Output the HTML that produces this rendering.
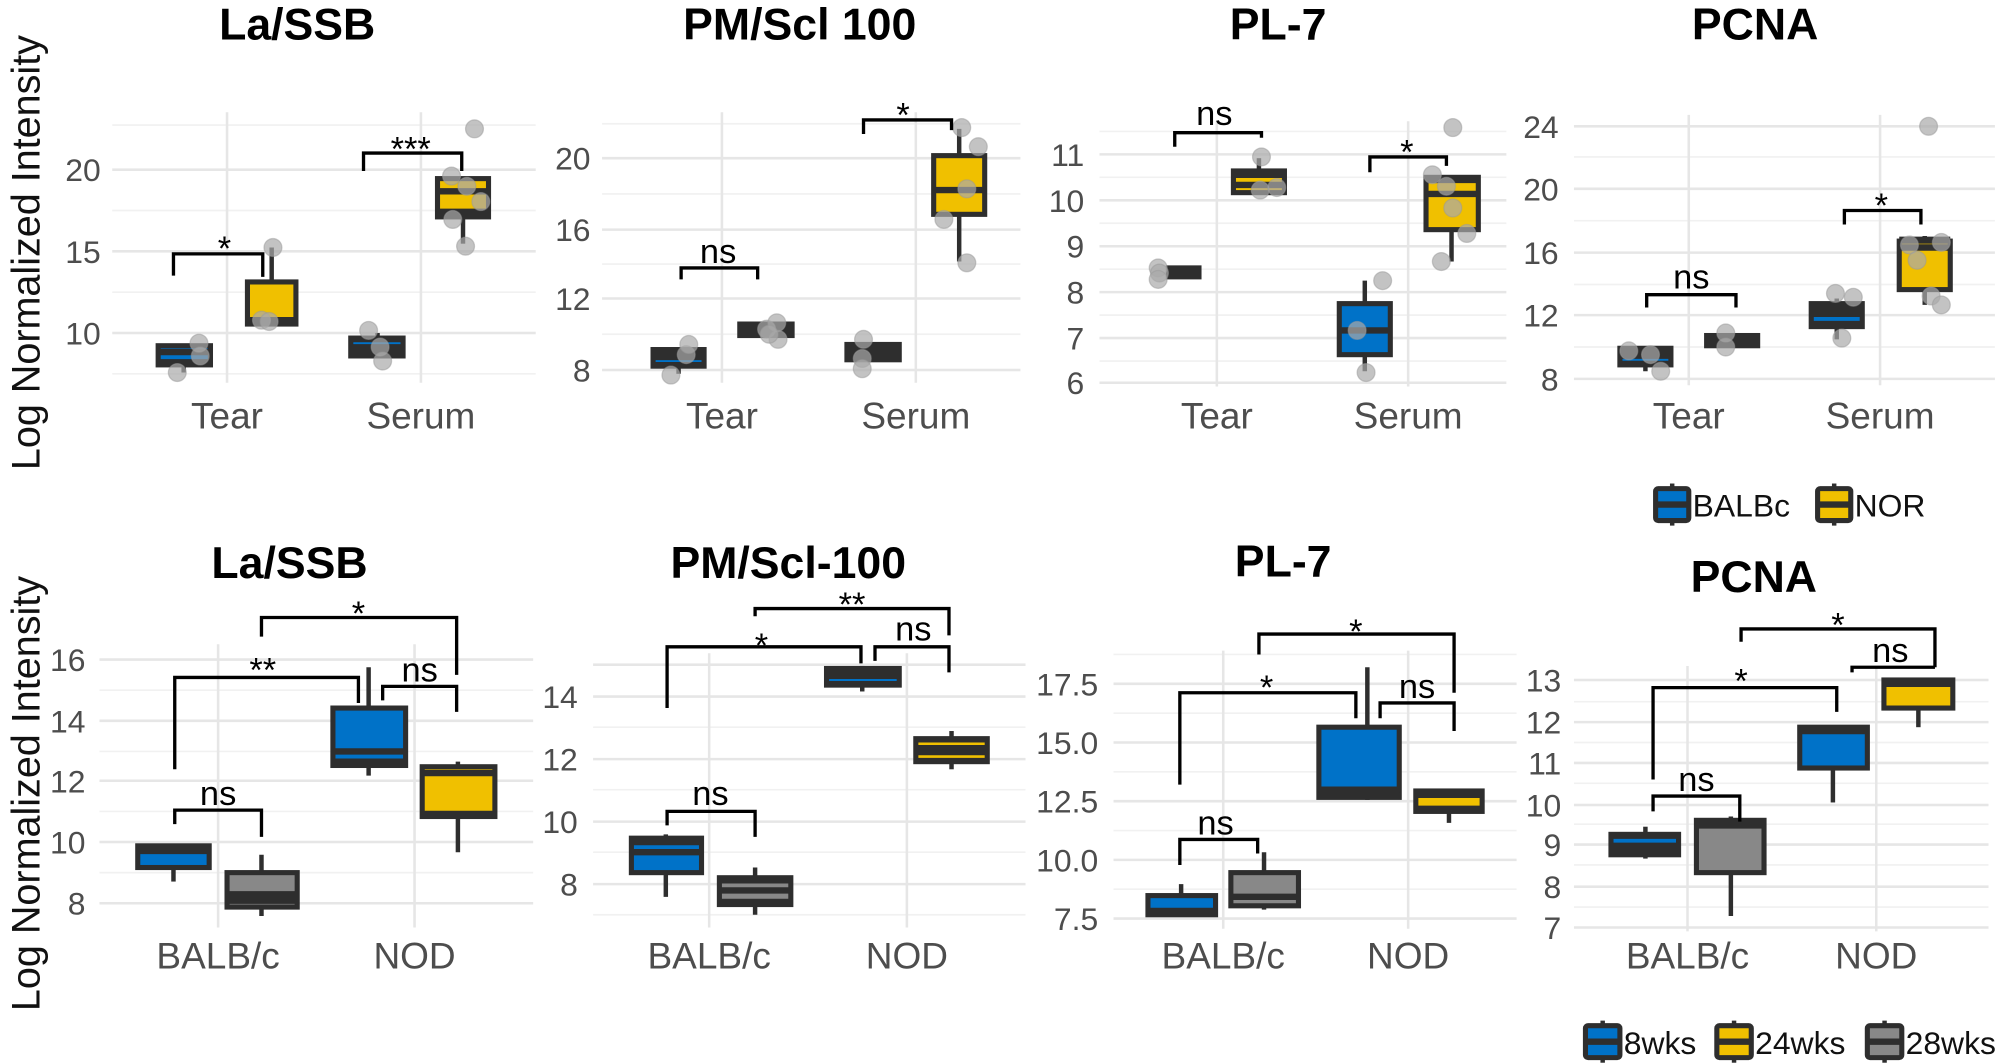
<!DOCTYPE html>
<html><head><meta charset="utf-8"><style>
html,body{margin:0;padding:0;background:#fff;}
svg{display:block;}
.gM{stroke:#e6e6e6;stroke-width:2;}
.gm{stroke:#f1f1f1;stroke-width:1.3;}
.tk{font-family:"Liberation Sans",sans-serif;font-size:25px;fill:#4d4d4d;text-anchor:end;}
.xl{font-family:"Liberation Sans",sans-serif;font-size:29px;fill:#4d4d4d;text-anchor:middle;}
.ti{font-family:"Liberation Sans",sans-serif;font-size:35px;font-weight:bold;fill:#000;text-anchor:middle;}
.sg{font-family:"Liberation Sans",sans-serif;font-size:27px;fill:#000;text-anchor:middle;}
.yl{font-family:"Liberation Sans",sans-serif;font-size:31px;fill:#111;text-anchor:middle;}
.lg{font-family:"Liberation Sans",sans-serif;font-size:25px;fill:#111;}
.bx{stroke:#2e2e2e;stroke-width:4;}
.wh{stroke:#2e2e2e;stroke-width:3.5;}
.md{stroke:#2e2e2e;stroke-width:5;}
.br{stroke:#000;stroke-width:2.6;fill:none;}
.pt{fill:#aaa;fill-opacity:0.7;stroke:#999;stroke-opacity:.5;stroke-width:1;}
</style></head><body>
<svg width="2000" height="1064" viewBox="0 0 1568 834" preserveAspectRatio="none" xmlns="http://www.w3.org/2000/svg">
<rect width="1568" height="834" fill="#fff"/>

<text class="yl" transform="translate(31,198) rotate(-90)">Log Normalized Intensity</text>
<text class="yl" transform="translate(31,622) rotate(-90)">Log Normalized Intensity</text>

<!-- P1 -->
<g>
<line class="gm" x1="88" x2="420" y1="98" y2="98"/><line class="gm" x1="88" x2="420" y1="165" y2="165"/><line class="gm" x1="88" x2="420" y1="229" y2="229"/><line class="gm" x1="88" x2="420" y1="293" y2="293"/>
<line class="gM" x1="88" x2="420" y1="133" y2="133"/><line class="gM" x1="88" x2="420" y1="197" y2="197"/><line class="gM" x1="88" x2="420" y1="261" y2="261"/>
<line class="gM" x1="178" x2="178" y1="88" y2="300"/><line class="gM" x1="330" x2="330" y1="88" y2="300"/>
<text class="tk" x="79" y="142">20</text><text class="tk" x="79" y="206">15</text><text class="tk" x="79" y="270">10</text>
<text class="xl" x="178" y="336">Tear</text><text class="xl" x="330" y="336">Serum</text>
<text class="ti" x="233" y="31">La/SSB</text>
<line class="wh" x1="144" x2="144" y1="286" y2="292"/>
<rect class="bx" x="124" y="271" width="41" height="15" fill="#0072c8"/><line class="md" x1="124" x2="165" y1="276" y2="276"/><line class="md" x1="124" x2="165" y1="284" y2="284"/>
<line class="wh" x1="213" x2="213" y1="194" y2="221"/>
<rect class="bx" x="194" y="221" width="38" height="33" fill="#f0c000"/><line class="md" x1="194" x2="232" y1="251" y2="251"/>
<line class="wh" x1="296" x2="296" y1="261" y2="265"/>
<rect class="bx" x="275" y="265" width="41" height="14" fill="#2e2e2e"/><line x1="277" x2="314" y1="269" y2="269" stroke="#0072c8" stroke-width="1.5"/>
<line class="wh" x1="363" x2="363" y1="170" y2="191"/>
<rect class="bx" x="343" y="140" width="40" height="30" fill="#f0c000"/><line class="md" x1="343" x2="383" y1="150" y2="150"/><line class="md" x1="343" x2="383" y1="166" y2="166"/>
<circle class="pt" cx="139" cy="292" r="7"/><circle class="pt" cx="156" cy="269" r="7"/><circle class="pt" cx="157" cy="279" r="7"/>
<circle class="pt" cx="214" cy="194" r="7"/><circle class="pt" cx="205" cy="251" r="7"/><circle class="pt" cx="211" cy="252" r="7"/>
<circle class="pt" cx="289" cy="259" r="7"/><circle class="pt" cx="298" cy="272" r="7"/><circle class="pt" cx="300" cy="283" r="7"/>
<circle class="pt" cx="372" cy="101" r="7"/><circle class="pt" cx="354" cy="138" r="7"/><circle class="pt" cx="366" cy="146" r="7"/><circle class="pt" cx="377" cy="158" r="7"/><circle class="pt" cx="355" cy="172" r="7"/><circle class="pt" cx="365" cy="193" r="7"/>
<polyline class="br" points="136,216 136,199 206,199 206,217"/><text class="sg" x="176" y="204">*</text>
<polyline class="br" points="285,134 285,120 362,120 362,134"/><text class="sg" x="322" y="126">***</text>
</g>

<!-- P2 -->
<g>
<line class="gm" x1="472" x2="800" y1="97" y2="97"/><line class="gm" x1="472" x2="800" y1="152" y2="152"/><line class="gm" x1="472" x2="800" y1="207" y2="207"/><line class="gm" x1="472" x2="800" y1="262" y2="262"/>
<line class="gM" x1="472" x2="800" y1="124" y2="124"/><line class="gM" x1="472" x2="800" y1="180" y2="180"/><line class="gM" x1="472" x2="800" y1="234" y2="234"/><line class="gM" x1="472" x2="800" y1="290" y2="290"/>
<line class="gM" x1="566" x2="566" y1="88" y2="300"/><line class="gM" x1="718" x2="718" y1="88" y2="300"/>
<text class="tk" x="463" y="133">20</text><text class="tk" x="463" y="189">16</text><text class="tk" x="463" y="243">12</text><text class="tk" x="463" y="299">8</text>
<text class="xl" x="566" y="336">Tear</text><text class="xl" x="718" y="336">Serum</text>
<text class="ti" x="627" y="31">PM/Scl 100</text>
<line class="wh" x1="532" x2="532" y1="287" y2="293"/>
<rect class="bx" x="512" y="274" width="40" height="13" fill="#2e2e2e"/><line x1="514" x2="550" y1="283" y2="283" stroke="#0072c8" stroke-width="1.5"/>
<rect class="bx" x="580" y="254" width="41" height="9" fill="#2e2e2e"/>
<rect class="bx" x="664" y="270" width="41" height="12" fill="#2e2e2e"/>
<line class="wh" x1="752" x2="752" y1="101" y2="205"/>
<rect class="bx" x="732" y="122" width="40" height="46" fill="#f0c000"/><line class="md" x1="732" x2="772" y1="149" y2="149"/>
<circle class="pt" cx="526" cy="294" r="7"/><circle class="pt" cx="538" cy="278" r="7"/><circle class="pt" cx="540" cy="270" r="7"/>
<circle class="pt" cx="601" cy="258" r="7"/><circle class="pt" cx="609" cy="253" r="7"/><circle class="pt" cx="610" cy="266" r="7"/><circle class="pt" cx="603" cy="262" r="7"/>
<circle class="pt" cx="677" cy="266" r="7"/><circle class="pt" cx="676" cy="281" r="7"/><circle class="pt" cx="676" cy="289" r="7"/>
<circle class="pt" cx="754" cy="100" r="7"/><circle class="pt" cx="767" cy="115" r="7"/><circle class="pt" cx="758" cy="148" r="7"/><circle class="pt" cx="740" cy="172" r="7"/><circle class="pt" cx="758" cy="206" r="7"/>
<polyline class="br" points="534,219 534,210 594,210 594,219"/><text class="sg" x="563" y="206">ns</text>
<polyline class="br" points="677,105 677,94 746,94 746,102"/><text class="sg" x="708" y="99">*</text>
</g>

<!-- P3 -->
<g>
<line class="gm" x1="862" x2="1181" y1="103" y2="103"/><line class="gm" x1="862" x2="1181" y1="139" y2="139"/><line class="gm" x1="862" x2="1181" y1="175" y2="175"/><line class="gm" x1="862" x2="1181" y1="211" y2="211"/><line class="gm" x1="862" x2="1181" y1="247" y2="247"/><line class="gm" x1="862" x2="1181" y1="283" y2="283"/>
<line class="gM" x1="862" x2="1181" y1="121" y2="121"/><line class="gM" x1="862" x2="1181" y1="157" y2="157"/><line class="gM" x1="862" x2="1181" y1="193" y2="193"/><line class="gM" x1="862" x2="1181" y1="229" y2="229"/><line class="gM" x1="862" x2="1181" y1="265" y2="265"/><line class="gM" x1="862" x2="1181" y1="300" y2="300"/>
<line class="gM" x1="954" x2="954" y1="95" y2="303"/><line class="gM" x1="1104" x2="1104" y1="95" y2="303"/>
<text class="tk" x="850" y="130">11</text><text class="tk" x="850" y="166">10</text><text class="tk" x="850" y="202">9</text><text class="tk" x="850" y="238">8</text><text class="tk" x="850" y="274">7</text><text class="tk" x="850" y="309">6</text>
<text class="xl" x="954" y="336">Tear</text><text class="xl" x="1104" y="336">Serum</text>
<text class="ti" x="1002" y="31">PL-7</text>
<rect class="bx" x="916" y="210" width="24" height="7" fill="#2e2e2e"/>
<line class="wh" x1="987" x2="987" y1="124" y2="134"/>
<rect class="bx" x="967" y="134" width="40" height="17" fill="#f0c000"/><line class="md" x1="967" x2="1007" y1="145" y2="145"/><line class="md" x1="967" x2="1007" y1="137" y2="137"/>
<line class="wh" x1="1070" x2="1070" y1="220" y2="291"/>
<rect class="bx" x="1050" y="238" width="40" height="40" fill="#0072c8"/><line class="md" x1="1050" x2="1090" y1="259" y2="259"/>
<line class="wh" x1="1138" x2="1138" y1="180" y2="205"/>
<rect class="bx" x="1118" y="139" width="41" height="41" fill="#f0c000"/><line class="md" x1="1118" x2="1159" y1="152" y2="152"/><line class="md" x1="1118" x2="1159" y1="141" y2="141"/>
<circle class="pt" cx="908" cy="210" r="7"/><circle class="pt" cx="909" cy="214" r="7"/><circle class="pt" cx="908" cy="219" r="7"/>
<circle class="pt" cx="989" cy="123" r="7"/><circle class="pt" cx="988" cy="149" r="7"/><circle class="pt" cx="1001" cy="147" r="7"/>
<circle class="pt" cx="1084" cy="220" r="7"/><circle class="pt" cx="1064" cy="259" r="7"/><circle class="pt" cx="1071" cy="292" r="7"/>
<circle class="pt" cx="1139" cy="100" r="7"/><circle class="pt" cx="1123" cy="137" r="7"/><circle class="pt" cx="1134" cy="146" r="7"/><circle class="pt" cx="1139" cy="163" r="7"/><circle class="pt" cx="1150" cy="183" r="7"/><circle class="pt" cx="1130" cy="205" r="7"/>
<polyline class="br" points="921,115 921,104 989,104 989,108"/><text class="sg" x="952" y="98">ns</text>
<polyline class="br" points="1074,135 1074,123 1134,123 1134,130"/><text class="sg" x="1103" y="128">*</text>
</g>

<!-- P4 -->
<g>
<line class="gm" x1="1234" x2="1564" y1="123" y2="123"/><line class="gm" x1="1234" x2="1564" y1="173" y2="173"/><line class="gm" x1="1234" x2="1564" y1="223" y2="223"/><line class="gm" x1="1234" x2="1564" y1="272" y2="272"/>
<line class="gM" x1="1234" x2="1564" y1="99" y2="99"/><line class="gM" x1="1234" x2="1564" y1="148" y2="148"/><line class="gM" x1="1234" x2="1564" y1="198" y2="198"/><line class="gM" x1="1234" x2="1564" y1="247" y2="247"/><line class="gM" x1="1234" x2="1564" y1="297" y2="297"/>
<line class="gM" x1="1324" x2="1324" y1="90" y2="302"/><line class="gM" x1="1474" x2="1474" y1="90" y2="302"/>
<text class="tk" x="1222" y="108">24</text><text class="tk" x="1222" y="157">20</text><text class="tk" x="1222" y="207">16</text><text class="tk" x="1222" y="256">12</text><text class="tk" x="1222" y="306">8</text>
<text class="xl" x="1324" y="336">Tear</text><text class="xl" x="1474" y="336">Serum</text>
<text class="ti" x="1376" y="31">PCNA</text>
<line class="wh" x1="1290" x2="1290" y1="286" y2="291"/>
<rect class="bx" x="1270" y="273" width="40" height="13" fill="#2e2e2e"/><line x1="1272" x2="1308" y1="282" y2="282" stroke="#0072c8" stroke-width="1.5"/>
<rect class="bx" x="1338" y="263" width="40" height="8" fill="#2e2e2e"/>
<line class="wh" x1="1440" x2="1440" y1="234" y2="266"/>
<rect class="bx" x="1420" y="238" width="40" height="18" fill="#2e2e2e"/><line x1="1422" x2="1458" y1="250" y2="250" stroke="#0072c8" stroke-width="3"/>
<line class="wh" x1="1509" x2="1509" y1="185" y2="239"/>
<rect class="bx" x="1489" y="189" width="40" height="38" fill="#f0c000"/><line class="md" x1="1489" x2="1529" y1="194" y2="194"/><line class="md" x1="1489" x2="1529" y1="188" y2="188"/>
<circle class="pt" cx="1277" cy="275" r="7"/><circle class="pt" cx="1294" cy="278" r="7"/><circle class="pt" cx="1302" cy="291" r="7"/>
<circle class="pt" cx="1353" cy="261" r="7"/><circle class="pt" cx="1353" cy="272" r="7"/>
<circle class="pt" cx="1439" cy="230" r="7"/><circle class="pt" cx="1453" cy="233" r="7"/><circle class="pt" cx="1444" cy="265" r="7"/>
<circle class="pt" cx="1512" cy="99" r="7"/><circle class="pt" cx="1497" cy="192" r="7"/><circle class="pt" cx="1522" cy="190" r="7"/><circle class="pt" cx="1503" cy="204" r="7"/><circle class="pt" cx="1514" cy="232" r="7"/><circle class="pt" cx="1522" cy="239" r="7"/>
<polyline class="br" points="1291,241 1291,231 1361,231 1361,241"/><text class="sg" x="1326" y="226">ns</text>
<polyline class="br" points="1446,176 1446,165 1506,165 1506,176"/><text class="sg" x="1475" y="170">*</text>
</g>

<g>
<line class="wh" x1="1311" x2="1311" y1="379" y2="412"/>
<rect class="bx" x="1298" y="383" width="26" height="25" rx="2" fill="#0072c8"/><line class="md" x1="1298" x2="1324" y1="395.5" y2="395.5"/>
<text class="lg" x="1327" y="405">BALBc</text>
<line class="wh" x1="1438" x2="1438" y1="379" y2="412"/>
<rect class="bx" x="1425" y="383" width="26" height="25" rx="2" fill="#f0c000"/><line class="md" x1="1425" x2="1451" y1="395.5" y2="395.5"/>
<text class="lg" x="1454" y="405">NOR</text>
</g>

<!-- P5 -->
<g>
<line class="gm" x1="78" x2="418" y1="541" y2="541"/><line class="gm" x1="78" x2="418" y1="589" y2="589"/><line class="gm" x1="78" x2="418" y1="636" y2="636"/><line class="gm" x1="78" x2="418" y1="684" y2="684"/>
<line class="gM" x1="78" x2="418" y1="517" y2="517"/><line class="gM" x1="78" x2="418" y1="565" y2="565"/><line class="gM" x1="78" x2="418" y1="612" y2="612"/><line class="gM" x1="78" x2="418" y1="660" y2="660"/><line class="gM" x1="78" x2="418" y1="708" y2="708"/>
<line class="gM" x1="171" x2="171" y1="505" y2="727"/><line class="gM" x1="325" x2="325" y1="505" y2="727"/>
<text class="tk" x="67" y="526">16</text><text class="tk" x="67" y="574">14</text><text class="tk" x="67" y="621">12</text><text class="tk" x="67" y="669">10</text><text class="tk" x="67" y="717">8</text>
<text class="xl" x="171" y="759">BALB/c</text><text class="xl" x="325" y="759">NOD</text>
<text class="ti" x="227" y="453">La/SSB</text>
<line class="wh" x1="136" x2="136" y1="680" y2="691"/>
<rect class="bx" x="108" y="663" width="56" height="17" fill="#0072c8"/><line class="md" x1="108" x2="164" y1="667" y2="667"/>
<line class="wh" x1="205" x2="205" y1="670" y2="718"/>
<rect class="bx" x="178" y="684" width="55" height="27" fill="#888"/><line class="md" x1="178" x2="233" y1="701" y2="701"/><line class="md" x1="178" x2="233" y1="706" y2="706"/>
<line class="wh" x1="289" x2="289" y1="523" y2="608"/>
<rect class="bx" x="261" y="555" width="57" height="45" fill="#0072c8"/><line class="md" x1="261" x2="318" y1="589" y2="589"/><line class="md" x1="261" x2="318" y1="597" y2="597"/>
<line class="wh" x1="359" x2="359" y1="597" y2="668"/>
<rect class="bx" x="331" y="601" width="57" height="39" fill="#f0c000"/><line class="md" x1="331" x2="388" y1="606" y2="606"/><line class="md" x1="331" x2="388" y1="638" y2="638"/>
<polyline class="br" points="137,646 137,635 205,635 205,656"/><text class="sg" x="171" y="631">ns</text>
<polyline class="br" points="137,603 137,531 281,531 281,551"/><text class="sg" x="206" y="534">**</text>
<polyline class="br" points="300,549 300,538 358,538 358,558"/><text class="sg" x="329" y="534">ns</text>
<polyline class="br" points="205,499 205,484 358,484 358,529"/><text class="sg" x="281" y="490">*</text>
</g>

<!-- P6 -->
<g>
<line class="gm" x1="465" x2="804" y1="570" y2="570"/><line class="gm" x1="465" x2="804" y1="619" y2="619"/><line class="gm" x1="465" x2="804" y1="668" y2="668"/><line class="gm" x1="465" x2="804" y1="717" y2="717"/>
<line class="gM" x1="465" x2="804" y1="521" y2="521"/><line class="gM" x1="465" x2="804" y1="546" y2="546"/><line class="gM" x1="465" x2="804" y1="595" y2="595"/><line class="gM" x1="465" x2="804" y1="644" y2="644"/><line class="gM" x1="465" x2="804" y1="693" y2="693"/>
<line class="gM" x1="556" x2="556" y1="512" y2="727"/><line class="gM" x1="711" x2="711" y1="512" y2="727"/>
<text class="tk" x="453" y="555">14</text><text class="tk" x="453" y="604">12</text><text class="tk" x="453" y="653">10</text><text class="tk" x="453" y="702">8</text>
<text class="xl" x="556" y="759">BALB/c</text><text class="xl" x="711" y="759">NOD</text>
<text class="ti" x="618" y="453">PM/Scl-100</text>
<line class="wh" x1="522" x2="522" y1="654" y2="703"/>
<rect class="bx" x="495" y="657" width="55" height="27" fill="#0072c8"/><line class="md" x1="495" x2="550" y1="668" y2="668"/><line class="md" x1="495" x2="550" y1="660" y2="660"/>
<line class="wh" x1="592" x2="592" y1="680" y2="717"/>
<rect class="bx" x="564" y="688" width="56" height="21" fill="#888"/><line class="md" x1="564" x2="620" y1="698" y2="698"/><line class="md" x1="564" x2="620" y1="690" y2="690"/><line class="md" x1="564" x2="620" y1="707" y2="707"/>
<line class="wh" x1="676" x2="676" y1="522" y2="542"/>
<rect class="bx" x="648" y="524" width="57" height="13" fill="#2e2e2e"/><line x1="650" x2="703" y1="533" y2="533" stroke="#0072c8" stroke-width="1.5"/>
<line class="wh" x1="746" x2="746" y1="573" y2="603"/>
<rect class="bx" x="718" y="579" width="56" height="18" fill="#2e2e2e"/><line x1="720" x2="772" y1="583" y2="583" stroke="#f0c000" stroke-width="2"/><line x1="720" x2="772" y1="593" y2="593" stroke="#f0c000" stroke-width="2"/>
<polyline class="br" points="523,647 523,636 592,636 592,656"/><text class="sg" x="557" y="631">ns</text>
<polyline class="br" points="523,555 523,507 675,507 675,520"/><text class="sg" x="597" y="515">*</text>
<polyline class="br" points="686,518 686,507 744,507 744,527"/><text class="sg" x="716" y="502">ns</text>
<polyline class="br" points="592,483 592,477 744,477 744,498"/><text class="sg" x="668" y="483">**</text>
</g>

<!-- P7 -->
<g>
<line class="gm" x1="873" x2="1189" y1="513" y2="513"/><line class="gm" x1="873" x2="1189" y1="559" y2="559"/><line class="gm" x1="873" x2="1189" y1="605" y2="605"/><line class="gm" x1="873" x2="1189" y1="651" y2="651"/><line class="gm" x1="873" x2="1189" y1="697" y2="697"/>
<line class="gM" x1="873" x2="1189" y1="536" y2="536"/><line class="gM" x1="873" x2="1189" y1="582" y2="582"/><line class="gM" x1="873" x2="1189" y1="628" y2="628"/><line class="gM" x1="873" x2="1189" y1="674" y2="674"/><line class="gM" x1="873" x2="1189" y1="720" y2="720"/>
<line class="gM" x1="959" x2="959" y1="510" y2="728"/><line class="gM" x1="1104" x2="1104" y1="510" y2="728"/>
<text class="tk" x="861" y="545">17.5</text><text class="tk" x="861" y="591">15.0</text><text class="tk" x="861" y="637">12.5</text><text class="tk" x="861" y="683">10.0</text><text class="tk" x="861" y="729">7.5</text>
<text class="xl" x="959" y="759">BALB/c</text><text class="xl" x="1104" y="759">NOD</text>
<text class="ti" x="1006" y="452">PL-7</text>
<line class="wh" x1="926" x2="926" y1="693" y2="702"/>
<rect class="bx" x="900" y="702" width="53" height="15" fill="#0072c8"/><line class="md" x1="900" x2="953" y1="714" y2="714"/>
<line class="wh" x1="991" x2="991" y1="668" y2="713"/>
<rect class="bx" x="965" y="684" width="53" height="26" fill="#888"/><line class="md" x1="965" x2="1018" y1="703" y2="703"/>
<line class="wh" x1="1072" x2="1072" y1="523" y2="627"/>
<rect class="bx" x="1034" y="570" width="63" height="55" fill="#0072c8"/><line class="md" x1="1034" x2="1097" y1="619" y2="619"/><line class="md" x1="1034" x2="1097" y1="623" y2="623"/>
<line class="wh" x1="1136" x2="1136" y1="636" y2="645"/>
<rect class="bx" x="1110" y="620" width="52" height="16" fill="#f0c000"/><line class="md" x1="1110" x2="1162" y1="623" y2="623"/><line class="md" x1="1110" x2="1162" y1="634" y2="634"/>
<polyline class="br" points="925,678 925,658 986,658 986,669"/><text class="sg" x="953" y="654">ns</text>
<polyline class="br" points="925,615 925,543 1063,543 1063,563"/><text class="sg" x="993" y="548">*</text>
<polyline class="br" points="1082,563 1082,551 1140,551 1140,573"/><text class="sg" x="1111" y="547">ns</text>
<polyline class="br" points="987,513 987,497 1140,497 1140,543"/><text class="sg" x="1063" y="504">*</text>
</g>

<!-- P8 -->
<g>
<line class="gm" x1="1234" x2="1559" y1="550" y2="550"/><line class="gm" x1="1234" x2="1559" y1="582" y2="582"/><line class="gm" x1="1234" x2="1559" y1="614" y2="614"/><line class="gm" x1="1234" x2="1559" y1="646" y2="646"/><line class="gm" x1="1234" x2="1559" y1="678" y2="678"/><line class="gm" x1="1234" x2="1559" y1="711" y2="711"/>
<line class="gM" x1="1234" x2="1559" y1="533" y2="533"/><line class="gM" x1="1234" x2="1559" y1="566" y2="566"/><line class="gM" x1="1234" x2="1559" y1="598" y2="598"/><line class="gM" x1="1234" x2="1559" y1="631" y2="631"/><line class="gM" x1="1234" x2="1559" y1="662" y2="662"/><line class="gM" x1="1234" x2="1559" y1="695" y2="695"/><line class="gM" x1="1234" x2="1559" y1="727" y2="727"/>
<line class="gM" x1="1323" x2="1323" y1="522" y2="730"/><line class="gM" x1="1471" x2="1471" y1="522" y2="730"/>
<text class="tk" x="1224" y="542">13</text><text class="tk" x="1224" y="575">12</text><text class="tk" x="1224" y="607">11</text><text class="tk" x="1224" y="640">10</text><text class="tk" x="1224" y="671">9</text><text class="tk" x="1224" y="704">8</text><text class="tk" x="1224" y="736">7</text>
<text class="xl" x="1323" y="759">BALB/c</text><text class="xl" x="1471" y="759">NOD</text>
<text class="ti" x="1375" y="464">PCNA</text>
<line class="wh" x1="1290" x2="1290" y1="648" y2="673"/>
<rect class="bx" x="1263" y="654" width="53" height="16" fill="#2e2e2e"/><line x1="1265" x2="1314" y1="659" y2="659" stroke="#0072c8" stroke-width="3"/>
<line class="wh" x1="1357" x2="1357" y1="640" y2="718"/>
<rect class="bx" x="1330" y="643" width="53" height="41" fill="#888"/><line class="md" x1="1330" x2="1383" y1="647" y2="647"/>
<line class="wh" x1="1437" x2="1437" y1="602" y2="629"/>
<rect class="bx" x="1411" y="570" width="53" height="32" fill="#0072c8"/><line class="md" x1="1411" x2="1464" y1="573" y2="573"/>
<line class="wh" x1="1504" x2="1504" y1="555" y2="570"/>
<rect class="bx" x="1477" y="533" width="54" height="22" fill="#f0c000"/><line class="md" x1="1477" x2="1531" y1="536" y2="536"/>
<polyline class="br" points="1296,636 1296,624 1364,624 1364,644"/><text class="sg" x="1330" y="620">ns</text>
<polyline class="br" points="1296,611 1296,539 1440,539 1440,558"/><text class="sg" x="1365" y="543">*</text>
<polyline class="br" points="1452,527 1452,523 1517,523"/><text class="sg" x="1482" y="519">ns</text>
<polyline class="br" points="1365,503 1365,493 1517,493 1517,523"/><text class="sg" x="1441" y="499">*</text>
</g>

<g>
<line class="wh" x1="1256.5" x2="1256.5" y1="800" y2="833"/>
<rect class="bx" x="1243" y="804" width="27" height="25" rx="2" fill="#0072c8"/><line class="md" x1="1243" x2="1270" y1="816.5" y2="816.5"/>
<text class="lg" x="1273" y="826">8wks</text>
<line class="wh" x1="1359.5" x2="1359.5" y1="800" y2="833"/>
<rect class="bx" x="1346" y="804" width="27" height="25" rx="2" fill="#f0c000"/><line class="md" x1="1346" x2="1373" y1="816.5" y2="816.5"/>
<text class="lg" x="1376" y="826">24wks</text>
<line class="wh" x1="1477.5" x2="1477.5" y1="800" y2="833"/>
<rect class="bx" x="1464" y="804" width="27" height="25" rx="2" fill="#888"/><line class="md" x1="1464" x2="1491" y1="816.5" y2="816.5"/>
<text class="lg" x="1494" y="826">28wks</text>
</g>
</svg>
</body></html>
